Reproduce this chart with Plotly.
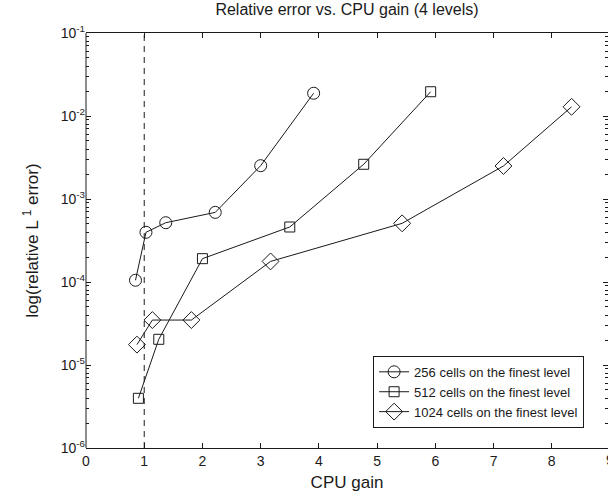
import plotly.graph_objects as go

# ---- data ----
x256 = [0.85, 1.03, 1.37, 2.22, 3.00, 3.91]
y256 = [1.05e-4, 3.97e-4, 5.18e-4, 6.9e-4, 2.52e-3, 1.88e-2]

x512 = [0.90, 1.25, 2.00, 3.50, 4.77, 5.92]
y512 = [3.97e-6, 2.04e-5, 1.91e-4, 4.6e-4, 2.62e-3, 1.96e-2]

x1024 = [0.875, 1.14, 1.81, 3.17, 5.43, 7.17, 8.34]
y1024 = [1.76e-5, 3.48e-5, 3.48e-5, 1.77e-4, 5.09e-4, 2.5e-3, 1.29e-2]

names = ["256 cells on the finest level",
         "512 cells on the finest level",
         "1024 cells on the finest level"]

x_ticks = [0, 1, 2, 3, 4, 5, 6, 7, 8, 9]
y_ticks = [1e-6, 1e-5, 1e-4, 1e-3, 1e-2, 1e-1]
y_ticktext = ["10<sup>-6</sup>", "10<sup>-5</sup>", "10<sup>-4</sup>",
              "10<sup>-3</sup>", "10<sup>-2</sup>", "10<sup>-1</sup>"]
y_minor = [m * 10.0 ** e for e in range(-6, -1) for m in range(2, 10)]
ref_gain = 1.0

# the reference is cropped just before the right axis (x = 9)
X_MAX = 8.966

INK = "#1a1a1a"
FONT = "Liberation Sans, Arial, Helvetica, sans-serif"

fig = go.Figure()
for xs, ys, nm, sym, sz in [(x256, y256, names[0], "circle-open", 12),
                            (x512, y512, names[1], "square-open", 10),
                            (x1024, y1024, names[2], "diamond-open", 13)]:
    fig.add_trace(go.Scatter(
        x=xs, y=ys, name=nm, mode="lines+markers",
        line=dict(color=INK, width=1),
        marker=dict(symbol=sym, size=sz, color=INK, line=dict(color=INK, width=1)),
    ))

# dashed reference line at gain = 1
fig.add_shape(type="line", x0=ref_gain, x1=ref_gain, y0=0, y1=1,
              xref="x", yref="paper",
              line=dict(color=INK, width=1, dash="6px,5px"))
# left axis line (right one lies outside the cropped picture)
fig.add_shape(type="line", x0=0, x1=0, y0=0, y1=1, xref="paper", yref="paper",
              line=dict(color=INK, width=1))

# last x tick label, partly cut by the crop
last_tick = x_ticks[-1]
fig.add_annotation(text=str(last_tick), x=last_tick / X_MAX, xref="paper",
                   y=0, yref="paper", yanchor="top", xanchor="center",
                   yshift=-2, showarrow=False, font=dict(size=14, color=INK, family=FONT))

fig.update_layout(
    template="none",
    width=608, height=496, autosize=False,
    margin=dict(l=86, r=0, t=33, b=48, autoexpand=False),
    paper_bgcolor="white", plot_bgcolor="white",
    font=dict(family=FONT, color=INK, size=13),
    showlegend=True,
    title=dict(text="Relative error vs. CPU gain (4 levels)",
               x=0.5, xref="paper", xanchor="center",
               y=1, yref="container", yanchor="top", pad=dict(t=4),
               font=dict(size=16, family=FONT, color=INK)),
    legend=dict(x=0.55, y=0.222, xanchor="left", yanchor="top",
                bgcolor="white", bordercolor=INK, borderwidth=1,
                font=dict(size=13, family=FONT, color=INK),
                itemwidth=30, tracegroupgap=0),
)
fig.update_xaxes(
    range=[0, X_MAX], tickvals=x_ticks, ticktext=[str(v) for v in x_ticks],
    automargin=False,
    showgrid=False, zeroline=False, showline=True, linecolor=INK, linewidth=1,
    mirror="ticks", ticks="inside", ticklen=5, tickcolor=INK,
    tickfont=dict(size=14), title=dict(text="CPU gain", font=dict(size=17), standoff=8),
)
fig.update_yaxes(
    type="log", range=[-6, -1], tickvals=y_ticks, ticktext=y_ticktext,
    automargin=False,
    showgrid=False, zeroline=False, showline=False,
    mirror="allticks", ticks="inside", ticklen=5, tickcolor=INK,
    minor=dict(tickvals=y_minor, ticks="inside", ticklen=3, tickcolor=INK, showgrid=False),
    tickfont=dict(size=14),
    title=dict(text="log(relative L <sup>1</sup> error)", font=dict(size=17), standoff=17),
)

fig.write_html("out.html")
